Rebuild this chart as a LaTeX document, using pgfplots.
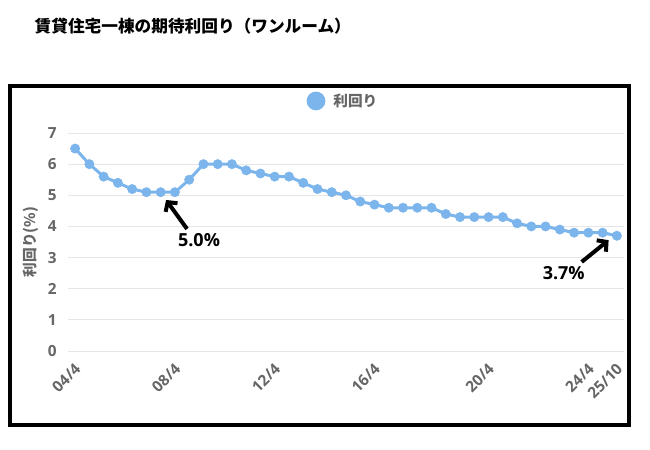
\documentclass[border=0pt]{standalone}
\usepackage{fontspec}
\setmainfont{Open Sans}
\newfontfamily\jp{Noto Sans CJK JP}
\usepackage{pgfplots}
\pgfplotsset{compat=1.18}
\usetikzlibrary{arrows.meta}
\definecolor{cblue}{HTML}{7CB5EC}
\definecolor{tgray}{HTML}{666666}
\definecolor{gridc}{HTML}{E6E6E6}
\begin{document}
\begin{tikzpicture}
\begin{scope}[x=0.75pt,y=-0.75pt]
\path (0,0) rectangle (650,450);
\node[anchor=west, font=\jp\bfseries\fontsize{12.5}{15}\selectfont] at (30,26) {賃貸住宅一棟の期待利回り（ワンルーム）};
\draw[line width=3pt] (9.5,86) rectangle (629.3,425.3);
\node[rotate=90, text=tgray, font=\jp\bfseries\fontsize{11}{13}\selectfont] at (31,242) {利回り(\%)};
\end{scope}
\begin{axis}[
  at={(51pt,-263.25pt)}, anchor=south west,
  scale only axis, width=417pt, height=163.5pt,
  xmin=-0.5, xmax=38.5, ymin=0, ymax=7,
  ytick={0,...,7},
  xtick={0,7,14,21,29,36,38},
  xticklabels={04/4,08/4,12/4,16/4,20/4,24/4,25/10},
  axis line style={draw=none},
  ymajorgrids, grid style={gridc, line width=0.75pt},
  major tick length=0pt,
  /pgf/number format/assume math mode=true,
  tick label style={font=\bfseries\fontsize{11.5}{14}\selectfont, text=tgray},
  x tick label style={xshift=4.5pt, yshift=-9pt, rotate=45, anchor=east},
  y tick label style={xshift=-5pt},
  legend style={at={(0.5,1.147)}, anchor=center, xshift=-2pt, draw=none, fill=none,
    font=\jp\bfseries\fontsize{11}{13}\selectfont, text=tgray},
  legend image code/.code={\fill[cblue] (0pt,0pt) circle (5.9pt);
    \path[draw=none, fill=none] (-5.9pt,0pt) -- (11pt,0pt);},
  clip=false,
]
\addplot[cblue, line width=2.25pt, mark=*, mark size=3.5pt,
  mark options={draw=cblue, fill=cblue, line width=0.4pt}] coordinates {
  (0,6.5) (1,6.0) (2,5.6) (3,5.4) (4,5.2) (5,5.1) (6,5.1) (7,5.1)
  (8,5.5) (9,6.0) (10,6.0) (11,6.0) (12,5.8) (13,5.7) (14,5.6) (15,5.6)
  (16,5.4) (17,5.2) (18,5.1) (19,5.0) (20,4.8) (21,4.7) (22,4.6) (23,4.6)
  (24,4.6) (25,4.6) (26,4.4) (27,4.3) (28,4.3) (29,4.3) (30,4.3) (31,4.1)
  (32,4.0) (33,4.0) (34,3.9) (35,3.8) (36,3.8) (37,3.8) (38,3.7)
};
\addlegendentry{利回り}
% annotations
\draw[line width=3pt, -{Straight Barb[length=5pt,width=11pt]}] (axis cs:7.85,3.92) -- (axis cs:6.38,4.85);
\node[font=\bfseries\fontsize{13.5}{16}\selectfont] at (axis cs:8.69,3.56) {5.0\%};
\draw[line width=3pt, -{Straight Barb[length=5pt,width=11pt]}] (axis cs:35.53,2.86) -- (axis cs:37.42,3.56);
\node[font=\bfseries\fontsize{13.5}{16}\selectfont] at (axis cs:34.27,2.50) {3.7\%};
\end{axis}
\end{tikzpicture}
\end{document}
